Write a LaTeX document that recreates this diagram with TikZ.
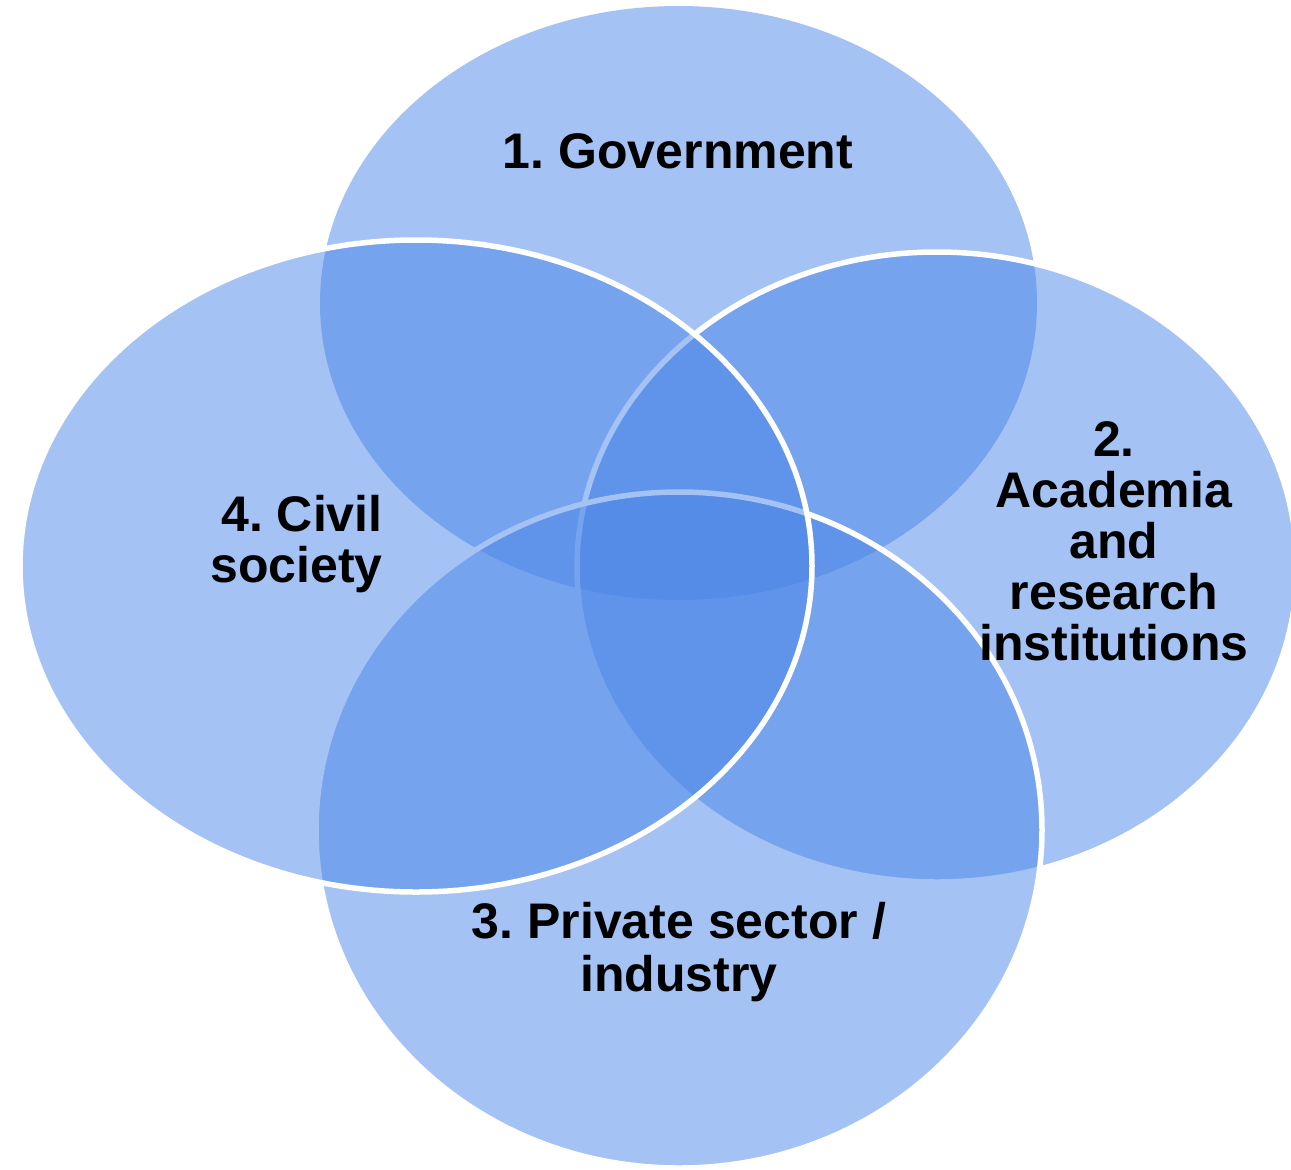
\documentclass[tikz,border=0pt]{standalone}
\usepackage{fontspec}
\setmainfont{Liberation Sans}
\usetikzlibrary{shapes.geometric}
\definecolor{vennblue}{HTML}{4A86E8}
\begin{document}
\frenchspacing
\begin{tikzpicture}[x=0.5pt,y=-0.5pt,
  blob/.style={ellipse, fill=vennblue, fill opacity=0.5, inner sep=0pt, outer sep=0pt},
  rim/.style={draw=white, draw opacity=1, line width=2.75pt},
  lbl/.style={text=black, inner sep=0pt, font=\bfseries\frenchspacing\fontsize{25}{25.5}\selectfont}]
\useasboundingbox[fill=white] (0,0) rectangle (1291,1169);
% ellipses (drawing order matters)
\node[blob, minimum width=358.5pt, minimum height=297pt] (gov) at (678.5,303) {};
\node[blob, rim, minimum width=360pt, minimum height=315pt] (acad) at (937,567) {};
\node[blob, rim, minimum width=363pt, minimum height=338pt] (priv) at (679,830) {};
\node[blob, rim, minimum width=396pt, minimum height=326pt] (civ) at (416,566) {};
% labels (anchor=base is the baseline of the last line)
\node[lbl, anchor=base] (govtext) at (678,168) {1. Government};
\node[lbl, anchor=base, align=center] (acadtext) at (1114,660) {2.\\Academia\\and\\research\\institutions};
\node[lbl, anchor=base, align=center, font=\bfseries\frenchspacing\fontsize{25}{26.5}\selectfont] (privtext) at (679,991) {3. Private sector /\\industry};
\node[lbl, anchor=base east, align=right] (civtext) at (383,582) {4. Civil\\society};
\end{tikzpicture}
\end{document}
